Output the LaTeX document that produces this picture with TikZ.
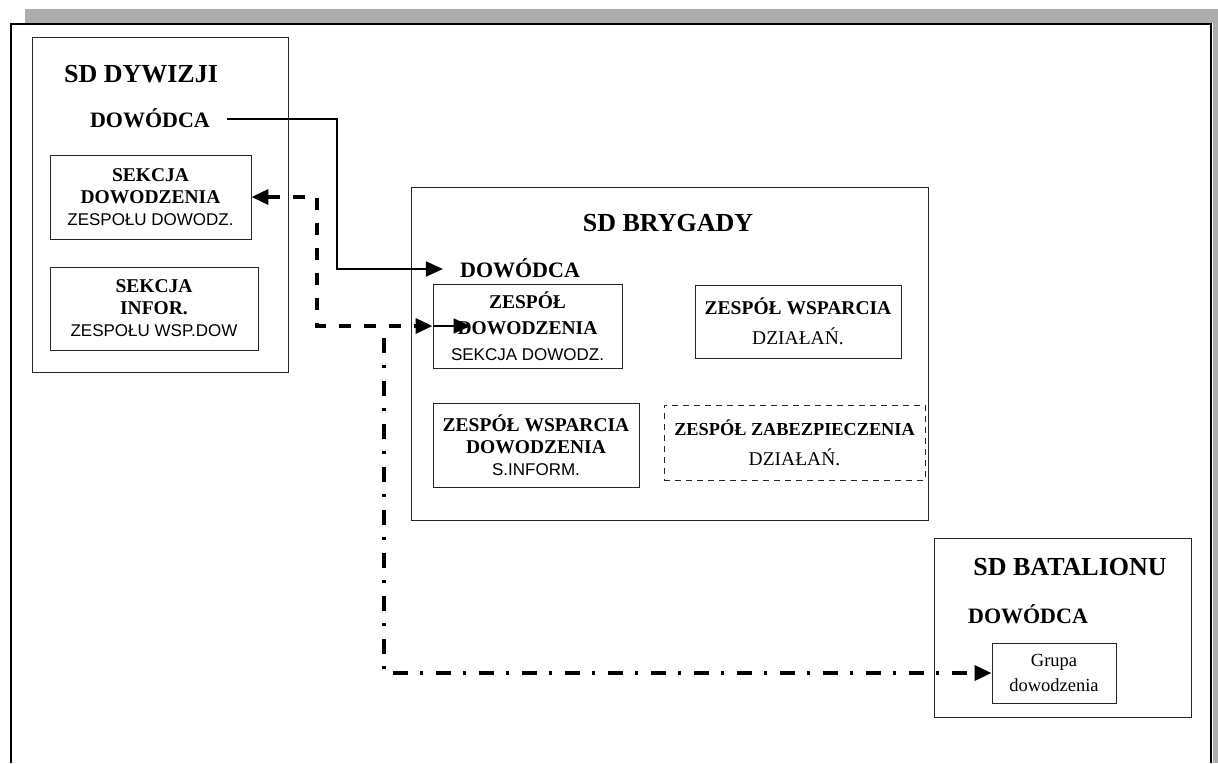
\documentclass[tikz,border=0pt]{standalone}
\usepackage{fontspec}
\setmainfont{Liberation Serif}
\newfontfamily\sansf{Liberation Sans}
\usetikzlibrary{arrows.meta,calc}

\begin{document}
\begin{tikzpicture}[x=1pt,y=-1pt,
  unit/.style={draw=black!85, line width=0.9pt, inner sep=0pt},
  cell/.style={draw=black!85, line width=0.9pt, inner sep=0pt, align=center,
    font=\fontsize{19.5}{22}\selectfont\bfseries},
  wide/.style={font=\fontsize{19.5}{30}\selectfont\bfseries},
  title/.style={anchor=base, inner sep=0pt, font=\fontsize{26}{30}\selectfont\bfseries},
  chief/.style={anchor=base, inner ysep=0pt, inner xsep=17pt,
    font=\fontsize{22}{26}\selectfont\bfseries},
  tip/.style={-{Triangle[length=17pt,width=15pt]}},
  conn/.style={line width=1.8pt, tip},
  dashconn/.style={line width=3.4pt, dash pattern=on 12pt off 13pt,
    {Triangle[length=17pt,width=15pt]}-{Triangle[length=17pt,width=15pt]}},
  dotconn/.style={line width=3.4pt, dash pattern=on 15pt off 12pt on 3pt off 13pt, tip}
]
\useasboundingbox (0,0) rectangle (1218,763);

% scanned page edge: shaded strip and heavy frame
\fill[black!32] (25,9) rectangle (1218,23);
\fill[black!32] (1213,9) rectangle (1218,763);
\draw[line width=1.8pt] (11,763) -- (11,24) -- (1211,24) -- (1211,763);

% division command post
\node[unit, minimum width=256pt, minimum height=335pt] (dyw) at (160,204.5) {};
\node[title] (dywt) at (141,82) {SD DYWIZJI};
\node[chief] (dywdow) at (150,127) {DOWÓDCA};
\node[cell, minimum width=201pt, minimum height=84pt] (sekd) at (150.5,197)
  {SEKCJA\\DOWODZENIA\\{\sansf\mdseries\fontsize{17}{22}\selectfont ZESPOŁU DOWODZ.}};
\node[cell, minimum width=208pt, minimum height=83pt] (seki) at (154,308.5)
  {SEKCJA\\INFOR.\\{\sansf\mdseries\fontsize{17}{22}\selectfont ZESPOŁU WSP.DOW}};

% brigade command post
\node[unit, minimum width=517pt, minimum height=333pt] (bry) at (669.5,353.5) {};
\node[title] (bryt) at (668,231) {SD BRYGADY};
\node[chief] (brydow) at (520,277) {DOWÓDCA};
\node[cell, font=\fontsize{19.5}{26}\selectfont\bfseries,
  minimum width=189pt, minimum height=84pt] (zdow) at (527.5,326)
  {ZESPÓŁ\\DOWODZENIA\\{\sansf\mdseries\fontsize{17}{26}\selectfont SEKCJA DOWODZ.}};
\node[cell, wide, minimum width=206pt, minimum height=73pt] (zwdz) at (798,321.5)
  {ZESPÓŁ WSPARCIA\\{\mdseries DZIAŁAŃ.}};
\node[cell, minimum width=206pt, minimum height=84pt] (zwdow) at (536,445)
  {ZESPÓŁ WSPARCIA\\DOWODZENIA\\{\sansf\mdseries\fontsize{17}{22}\selectfont S.INFORM.}};
\node[cell, font=\fontsize{18.3}{30}\selectfont\bfseries, dash pattern=on 6pt off 5pt,
  minimum width=261pt, minimum height=75pt] (zzab) at (794.5,442.5)
  {ZESPÓŁ ZABEZPIECZENIA\\{\mdseries\fontsize{19.5}{30}\selectfont DZIAŁAŃ.}};

% battalion command post
\node[unit, minimum width=257pt, minimum height=179pt] (bat) at (1062.5,627.5) {};
\node[title] (batt) at (1070,575) {SD BATALIONU};
\node[chief] (batdow) at (1028,623) {DOWÓDCA};
\node[cell, font=\fontsize{18.5}{25}\selectfont,
  minimum width=124pt, minimum height=60pt] (grupa) at (1054,673)
  {Grupa\\dowodzenia};

% connectors
\coordinate (bend) at (337,119);
\coordinate (dcorner) at (317,326);
\coordinate (dstart) at (384,338);
\draw[conn] ($(dywdow.base east)+(0,-8)$) -- (bend) |- ($(brydow.base west)+(0,-8)$);
\draw[dashconn] (sekd.east) -| (dcorner) -- (zdow.west);
\draw[conn] (zdow.west) -- ++(38,0);
\draw[dotconn] (dstart) |- (grupa.west);
\end{tikzpicture}
\end{document}
